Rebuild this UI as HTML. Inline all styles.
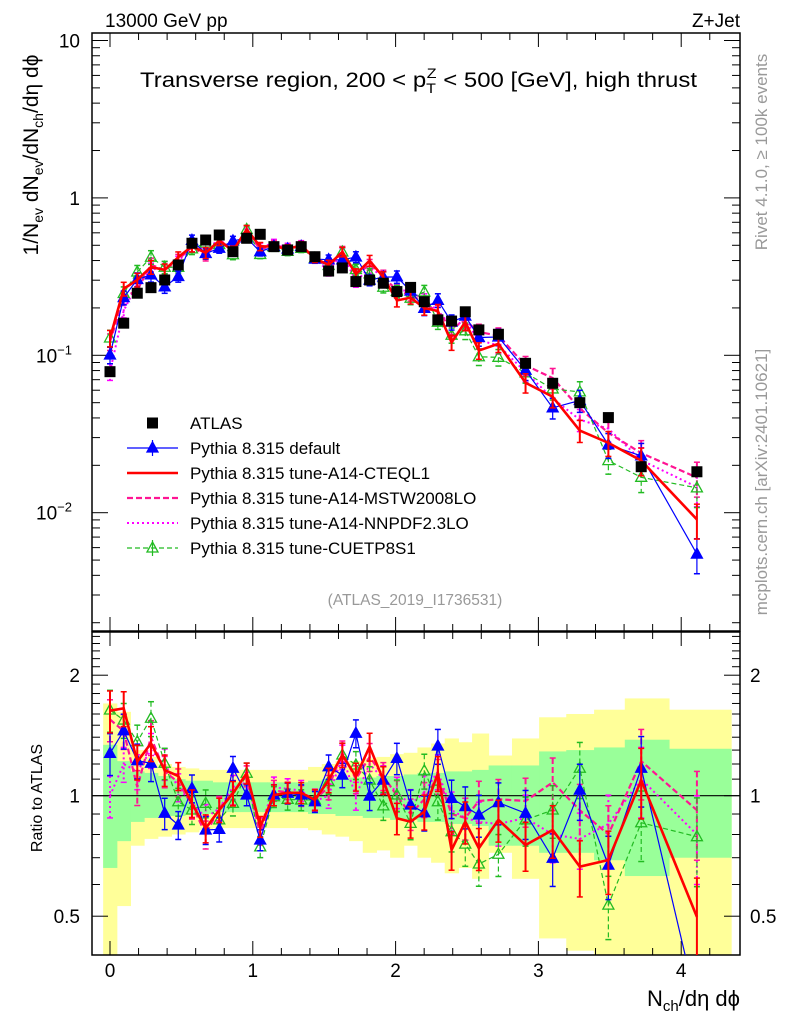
<!DOCTYPE html>
<html><head><meta charset="utf-8"><style>
body{margin:0;background:#fff}
svg{display:block;font-family:"Liberation Sans",sans-serif}
</style></head><body>
<svg id="chart" width="786" height="1024" viewBox="0 0 786 1024" xmlns="http://www.w3.org/2000/svg">
<g id="bands"></g>
<g id="grid"></g>
<g id="marks"></g>
<text x="105" y="27" font-size="19">13000 GeV pp</text>
<text x="740" y="27" font-size="19" text-anchor="end">Z+Jet</text>
<text x="140" y="87" font-size="21" textLength="557" lengthAdjust="spacingAndGlyphs">Transverse region, 200 &lt; p<tspan dy="6" font-size="14">T</tspan><tspan dy="-15" dx="-8" font-size="14">Z</tspan><tspan dy="9"> &lt; 500 [GeV], high thrust</tspan></text>
<text transform="translate(38,155) rotate(-90)" font-size="21" text-anchor="middle">1/N<tspan font-size="14" dy="5">ev</tspan><tspan dy="-5"> dN</tspan><tspan font-size="14" dy="5">ev</tspan><tspan dy="-5">/dN</tspan><tspan font-size="14" dy="5">ch</tspan><tspan dy="-5">/dη dϕ</tspan></text>
<text transform="translate(767,152) rotate(-90)" font-size="17" fill="#999" text-anchor="middle">Rivet 4.1.0, ≥ 100k events</text>
<text transform="translate(767,482) rotate(-90)" font-size="17" fill="#999" text-anchor="middle">mcplots.cern.ch [arXiv:2401.10621]</text>
<text x="415" y="605" font-size="15.5" fill="#999" text-anchor="middle">(ATLAS_2019_I1736531)</text>
<text transform="translate(42,798) rotate(-90)" font-size="16" text-anchor="middle">Ratio to ATLAS</text>
<text x="740" y="1006" font-size="22" text-anchor="end">N<tspan font-size="15" dy="5">ch</tspan><tspan dy="-5">/dη dϕ</tspan></text>
<g id="legend"></g>
</svg>
<script>
const xs=[0,0.096,0.191,0.287,0.383,0.478,0.574,0.670,0.765,0.861,0.957,1.052,1.148,1.244,1.339,1.435,1.531,1.627,1.722,1.818,1.914,2.009,2.105,2.201,2.296,2.392,2.488,2.583,2.72,2.91,3.10,3.29,3.49,3.72,4.11];
const atlas=[0.0787,0.160,0.248,0.269,0.301,0.375,0.515,0.540,0.581,0.455,0.554,0.587,0.490,0.467,0.490,0.423,0.343,0.359,0.294,0.301,0.287,0.254,0.270,0.219,0.168,0.165,0.189,0.145,0.136,0.0889,0.0664,0.050,0.0402,0.0196,0.0182];
const rDefault=[1.276,1.453,1.223,1.205,0.904,0.845,1.043,0.821,0.824,1.171,1.004,0.775,1.004,1.014,1.004,0.966,1.181,1.126,1.432,0.998,1.094,1.24,0.948,0.907,1.331,0.985,0.939,0.895,0.961,0.904,0.698,1.033,0.671,1.171,0.3];
const rCTEQ=[1.631,1.653,1.216,1.352,1.159,1.12,0.957,0.829,0.921,1.014,1.138,0.837,1.004,1.017,1.017,0.976,1.094,1.264,1.116,1.326,1.094,0.878,0.861,0.912,1.138,0.732,0.861,0.739,0.870,0.753,0.821,0.665,0.691,1.094,0.498];
const rMSTW=[1.55,1.45,1.05,1.40,1.15,1.08,0.95,0.80,0.93,1.02,1.12,0.80,1.03,1.02,1.00,0.98,1.05,1.28,1.10,1.25,1.12,1.00,0.90,0.98,1.12,0.90,0.88,0.97,0.98,0.97,1.08,0.92,0.80,1.22,0.92];
const rNNPDF=[1.00,1.20,1.15,1.30,1.20,1.05,0.96,0.88,0.93,1.05,1.08,0.83,1.05,1.04,1.03,0.97,1.00,1.25,1.00,1.20,1.10,1.02,0.95,1.02,1.15,0.92,0.88,0.86,0.85,0.88,0.80,0.78,0.85,1.10,0.80];
const rCUETP=[1.637,1.545,1.364,1.561,1.205,0.966,0.921,0.957,0.870,0.957,1.138,0.745,0.994,0.979,0.976,0.976,1.084,1.264,1.193,1.094,0.943,1.004,0.853,1.154,0.966,0.813,0.757,0.675,0.714,0.870,0.921,1.171,0.533,0.856,0.79];
const mcErr=[0.12,0.1,0.1,0.1,0.09,0.08,0.08,0.08,0.07,0.07,0.06,0.06,0.06,0.06,0.06,0.06,0.07,0.07,0.08,0.08,0.08,0.09,0.09,0.1,0.1,0.11,0.12,0.12,0.12,0.14,0.15,0.16,0.18,0.2,0.25];
const yelHi=[1.70,1.62,1.30,1.25,1.20,1.18,1.17,1.16,1.16,1.16,1.16,1.16,1.16,1.16,1.16,1.18,1.20,1.22,1.22,1.24,1.25,1.27,1.28,1.32,1.35,1.39,1.36,1.43,1.26,1.39,1.57,1.60,1.64,1.75,1.64];
const yelLo=[0.35,0.53,0.75,0.78,0.79,0.80,0.81,0.82,0.83,0.83,0.83,0.83,0.83,0.83,0.83,0.82,0.80,0.79,0.77,0.72,0.73,0.70,0.75,0.70,0.68,0.64,0.66,0.62,0.72,0.62,0.44,0.41,0.38,0.38,0.38];
const grnHi=[1.34,1.22,1.15,1.14,1.12,1.10,1.09,1.09,1.08,1.08,1.08,1.08,1.08,1.08,1.08,1.09,1.10,1.10,1.11,1.11,1.12,1.12,1.13,1.14,1.14,1.15,1.15,1.16,1.19,1.19,1.29,1.30,1.32,1.38,1.31];
const grnLo=[0.66,0.77,0.86,0.88,0.89,0.89,0.90,0.90,0.91,0.91,0.91,0.91,0.91,0.91,0.91,0.90,0.90,0.89,0.89,0.88,0.88,0.87,0.87,0.86,0.86,0.85,0.85,0.84,0.75,0.75,0.72,0.72,0.69,0.63,0.70];
const xTicks=[0,1,2,3,4];

const NS="http://www.w3.org/2000/svg";
const L=92,R=740,T=33,B=631,RT=632,RB=955;
const X=v=>110+142.8*v;
const Y=v=>197.9-157.4*Math.log10(v);
const YR=r=>795.7-120.5*Math.log2(r);
const clampR=y=>Math.max(RT,Math.min(RB,y));
function mk(tag,attrs,parent){const e=document.createElementNS(NS,tag);for(const k in attrs)e.setAttribute(k,attrs[k]);parent.appendChild(e);return e;}
const bands=document.getElementById('bands'),grid=document.getElementById('grid'),marks=document.getElementById('marks'),legend=document.getElementById('legend');

const edges=[];for(let i=0;i<xs.length;i++){const lo=i==0?xs[0]-(xs[1]-xs[0])/2:(xs[i-1]+xs[i])/2;const hi=i==xs.length-1?4.35:(xs[i]+xs[i+1])/2;edges.push([lo,hi]);}
[[yelHi,yelLo,'#ffff99','yellow-band'],[grnHi,grnLo,'#99ff99','green-band']].forEach(([hi,lo,c,n])=>{
 for(let i=0;i<xs.length;i++){const y1=clampR(YR(hi[i])),y2=clampR(YR(lo[i]));
  const r=mk('rect',{x:X(edges[i][0]),y:y1,width:X(edges[i][1])-X(edges[i][0])+0.5,height:y2-y1,fill:c},bands);
  
  }
});

[[T,B],[RT,RB]].forEach(([t,b])=>mk('rect',{x:L,y:t,width:R-L,height:b-t,fill:'none',stroke:'#000','stroke-width':1.5},grid));
mk('line',{x1:L,x2:R,y1:YR(1),y2:YR(1),stroke:'#000','stroke-width':1.2},grid);
for(let v=-0.2;v<=4.4;v+=0.2){const vv=Math.round(v*10)/10;const x=X(vv);if(x<L||x>R)continue;const maj=Math.abs(vv-Math.round(vv))<1e-6;const len=maj?14:7;
 [[T,1],[B,-1],[RT,1],[RB,-1]].forEach(([y,d])=>mk('line',{x1:x,x2:x,y1:y,y2:y+d*len,stroke:'#000','stroke-width':1},grid));}
xTicks.forEach(v=>{const t=mk('text',{x:X(v),y:977,'font-size':19,'text-anchor':'middle'},grid);t.textContent=v;
 
 });
for(let e=-3;e<=1;e++)for(let m=1;m<10;m++){const v=m*Math.pow(10,e);const y=Y(v);if(y<T||y>B)continue;const len=m==1?16:8;
 mk('line',{x1:L,x2:L+len,y1:y,y2:y,stroke:'#000'},grid);mk('line',{x1:R,x2:R-len,y1:y,y2:y,stroke:'#000'},grid);}
[['10',10,''],['1',1,''],['10',0.1,'−1'],['10',0.01,'−2']].forEach(([b,v,s])=>{const t=mk('text',{x:s?72:80,y:Y(v)+7,'font-size':19,'text-anchor':'end'},grid);t.textContent=b;
 if(s){const ts=mk('tspan',{dy:-8,'font-size':13},t);ts.textContent=s;}
 
 });
for(let r=0.4;r<=2.55;r+=0.1){const rr=Math.round(r*10)/10;const y=YR(rr);if(y<RT||y>RB)continue;const maj=(rr==0.5||rr==1||rr==2);const len=maj?16:8;
 mk('line',{x1:L,x2:L+len,y1:y,y2:y,stroke:'#000'},grid);mk('line',{x1:R,x2:R-len,y1:y,y2:y,stroke:'#000'},grid);}
[['2',2],['1',1],['0.5',0.5]].forEach(([s,v])=>{
 const t=mk('text',{x:80,y:YR(v)+7,'font-size':19,'text-anchor':'end'},grid);t.textContent=s;
 
 
 const t2=mk('text',{x:750,y:YR(v)+7,'font-size':19},grid);t2.textContent=s;
 
 });

const defs=mk('defs',{},marks);
const c1=mk('clipPath',{id:'cm'},defs);mk('rect',{x:L,y:T,width:R-L,height:B-T},c1);
const c2=mk('clipPath',{id:'cr'},defs);mk('rect',{x:L,y:RT,width:R-L,height:RB-RT},c2);
const gm=mk('g',{'clip-path':'url(#cm)'},marks),gr=mk('g',{'clip-path':'url(#cr)'},marks);

const series=[
 {r:rNNPDF,c:'#ff00ff',w:2,d:'2,3',mk:'none',n:'nnpdf'},
 {r:rMSTW,c:'#ff1493',w:2.2,d:'6,3',mk:'none',n:'mstw'},
 {r:rCUETP,c:'#22bb22',w:1.2,d:'5,3',mk:'open',n:'cuetp8s1'},
 {r:rDefault,c:'#0000ff',w:1.2,d:'',mk:'fill',n:'default'},
 {r:rCTEQ,c:'#ff0000',w:2.6,d:'',mk:'none',n:'cteql1'}];
function tri(g,x,y,c,fill,n){const p=mk('path',{d:`M${x},${y-6}L${x+5.5},${y+4}L${x-5.5},${y+4}Z`,fill:fill?c:'none',stroke:c,'stroke-width':1.3},g);
 
 }
series.forEach(s=>{
 [[gm,i=>atlas[i]*s.r[i],v=>Y(v)],[gr,i=>s.r[i],v=>YR(v)]].forEach(([g,val,ym])=>{
  const pts=xs.map((x,i)=>X(x)+','+ym(val(i))).join(' ');
  const pl=mk('polyline',{points:pts,fill:'none',stroke:s.c,'stroke-width':s.w,'stroke-dasharray':s.d},g);
  
  
  xs.forEach((x,i)=>{const v=val(i),e=mcErr[i];const y1=ym(v*(1+e)),y2=ym(v*(1-e));const xx=X(x);
   const eb=mk('line',{x1:xx,x2:xx,y1:y1,y2:y2,stroke:s.c,'stroke-width':Math.min(s.w,2),'stroke-dasharray':s.d},g);
   
   
   mk('line',{x1:xx-3,x2:xx+3,y1:y1,y2:y1,stroke:s.c,'stroke-width':1.5},g);
   mk('line',{x1:xx-3,x2:xx+3,y1:y2,y2:y2,stroke:s.c,'stroke-width':1.5},g);
   if(s.mk!='none')tri(g,xx,ym(v),s.c,s.mk=='fill',s.n+'-marker');});
 });
});
xs.forEach((x,i)=>{const sq=mk('rect',{x:X(x)-5.5,y:Y(atlas[i])-5.5,width:11,height:11,fill:'#000'},gm);
 
 });

const leg=[['ATLAS','sq'],['Pythia 8.315 default',series[3]],['Pythia 8.315 tune-A14-CTEQL1',series[4]],['Pythia 8.315 tune-A14-MSTW2008LO',series[1]],['Pythia 8.315 tune-A14-NNPDF2.3LO',series[0]],['Pythia 8.315 tune-CUETP8S1',series[2]]];
leg.forEach(([lab,s],k)=>{const y=423+25*k;const g=mk('g',{},legend);
 
 
 if(s=='sq')mk('rect',{x:147,y:y-5.5,width:11,height:11,fill:'#000'},g);
 else{mk('line',{x1:127,x2:178,y1:y,y2:y,stroke:s.c,'stroke-width':s.w,'stroke-dasharray':s.d},g);
  if(s.mk!='none'){mk('line',{x1:152.5,x2:152.5,y1:y-8,y2:y+8,stroke:s.c,'stroke-width':1.2},g);tri(g,152.5,y,s.c,s.mk=='fill','legend-marker');}}
 const t=mk('text',{x:190,y:y+6,'font-size':17},g);t.textContent=lab;});
</script>
</body></html>
